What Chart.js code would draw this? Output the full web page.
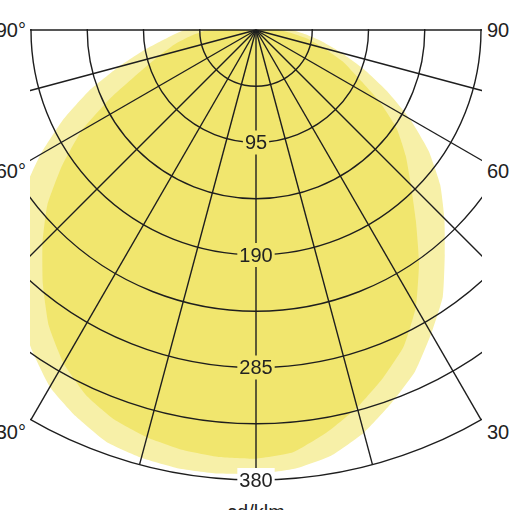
<!DOCTYPE html>
<html><head><meta charset="utf-8">
<script src="https://cdn.jsdelivr.net/npm/chart.js@4.4.1/dist/chart.umd.min.js"></script>
<style>
html,body{margin:0;padding:0;width:510px;height:510px;overflow:hidden;background:#fff;}
#clip{position:absolute;left:30px;top:29px;width:452px;height:472px;overflow:hidden;}
#c{position:absolute;left:-224px;top:-449px;}
.lab{position:absolute;font-family:"Liberation Sans",Arial,sans-serif;font-size:20px;color:#222;line-height:20px;white-space:nowrap;}
.l{right:484px;text-align:right;}
.r{left:487px;}
</style></head><body>
<div id="clip"><canvas id="c" width="900" height="960"></canvas></div>
<div class="lab l" style="top:20px">90°</div>
<div class="lab l" style="top:161px">60°</div>
<div class="lab l" style="top:422px">30°</div>
<div class="lab r" style="top:20px">90°</div>
<div class="lab r" style="top:161px">60°</div>
<div class="lab r" style="top:422px">30°</div>
<div class="lab" style="top:502px;left:0;width:512px;text-align:center">cd/klm</div>
<script>
// gamma angles, left half negative, right half positive (ordered left to right)
const gammaAngles = [-90,-85,-80,-75,-70,-65,-60,-55,-50,-45,-40,-35,-30,-25,-20,-15,-10,-5,0,5,10,15,20,25,30,35,40,45,50,55,60,65,70,75,80,85,90];
// inner (deeper yellow) curve, cd/klm
const intensityDeep = [40,55,70,85,105,135,170,200,230,255,280,305,325,340,350,356,360,362,362,358,345,330,313,295,270,240,210,185,165,145,120,95,78,60,45,30,20];
// outer (light yellow) curve, cd/klm
const intensityLight = [60,75,95,120,150,180,210,240,265,290,310,330,348,360,370,374,376,376,375,372,365,352,335,318,296,275,248,225,203,178,150,122,97,75,57,42,30];
const ringLabels = [95,190,285,380];
const gridStep = 47.5;
const maxValue = 380;

const deepColor = '#f1e66e';
const lightColor = '#f7f0a8';

// build full-circle radar arrays: index k -> direction 5k degrees clockwise from nadir (towards left first)
const labels = [], dDeep = [], dLight = [];
for (let k = 0; k < 72; k++) {
  const deg = k * 5;
  labels.push(deg);
  let g = null;
  if (deg <= 90) g = -deg; else if (deg >= 270) g = 360 - deg;
  if (g === null) { dDeep.push(0); dLight.push(0); }
  else { const i = gammaAngles.indexOf(g); dDeep.push(intensityDeep[i]); dLight.push(intensityLight[i]); }
}

const ringLabelPlugin = {
  id: 'ringLabels',
  afterDraw(chart) {
    const s = chart.scales.r, ctx = chart.ctx;
    ctx.save();
    ctx.font = '20px "Liberation Sans", Arial, sans-serif';
    ctx.textAlign = 'center'; ctx.textBaseline = 'middle';
    ringLabels.forEach((v, i) => {
      const p = s.getPointPositionForValue(0, v);
      const t = String(v);
      const w = ctx.measureText(t).width + 4;
      ctx.fillStyle = i === ringLabels.length - 1 ? '#ffffff' : deepColor;
      ctx.fillRect(p.x - w / 2, p.y - 12, w, 24);
      ctx.fillStyle = '#222';
      ctx.fillText(t, p.x, p.y + 1);
    });
    ctx.restore();
  }
};

new Chart(document.getElementById('c'), {
  type: 'radar',
  data: {
    labels: labels,
    datasets: [
      { data: dDeep, backgroundColor: deepColor, borderWidth: 0, fill: true, pointRadius: 0 },
      { data: dLight, backgroundColor: lightColor, borderWidth: 0, fill: true, pointRadius: 0 }
    ]
  },
  options: {
    responsive: false,
    animation: false,
    devicePixelRatio: 1,
    layout: { padding: { left: 0, right: 0, top: 0, bottom: 60 } },
    elements: { line: { tension: 0.15 } },
    plugins: { legend: { display: false }, tooltip: { enabled: false } },
    scales: {
      r: {
        min: 0, max: maxValue,
        startAngle: 180,
        ticks: { display: false, stepSize: gridStep },
        pointLabels: { display: false },
        grid: { circular: true, color: '#1e1e1e', lineWidth: 1.4, z: 1 },
        angleLines: {
          color: '#1e1e1e',
          lineWidth: (ctx) => {
            const deg = ctx.index * 5;
            return (deg % 15 === 0 && (deg <= 90 || deg >= 270)) ? 1.4 : 0;
          }
        }
      }
    }
  },
  plugins: [ringLabelPlugin]
});
</script>
</body></html>
